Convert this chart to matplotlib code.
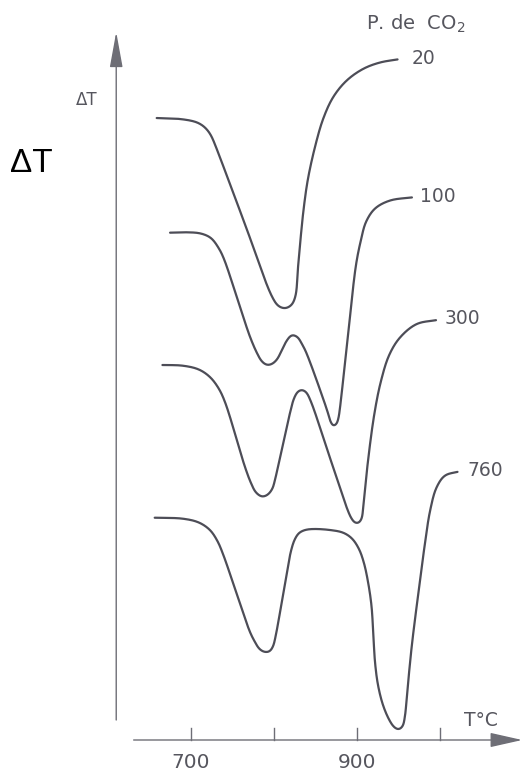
import numpy as np
import matplotlib
matplotlib.use("Agg")
import matplotlib.pyplot as plt

# DTA curves: temperature (°C) vs. ΔT (arbitrary units, curves offset vertically)
pressures = ["20", "100", "300", "760"]

t_20 = [657.8, 686.7, 706.0, 714.5, 720.5, 724.5, 727.5, 764.1, 797.6, 805.4,
        813.3, 821.1, 825.9, 828.9, 831.9, 835.6, 840.7, 849.4, 859.4, 871.4,
        887.6, 907.6, 927.7, 949.8]
dt_20 = [62.2, 62.1, 61.8, 61.42, 60.92, 60.4, 59.85, 51.8, 44.35, 43.4,
         43.17, 43.5, 44.4, 47.2, 50.0, 53.0, 56.0, 59.3, 62.15, 64.3,
         65.95, 67.12, 67.75, 68.07]

t_100 = [673.9, 695.2, 712.0, 724.1, 733.7, 739.8, 759.0, 771.1, 779.5, 785.5,
         791.6, 797.6, 803.6, 809.6, 815.1, 821.7, 828.3, 833.7, 838.6, 863.9,
         868.1, 871.7, 875.3, 877.7, 878.9, 888.8, 898.8, 904.8, 910.8, 921.7,
         939.8, 967.5]
dt_100 = [50.73, 50.77, 50.65, 50.2, 49.15, 48.1, 43.33, 40.33, 38.7, 37.85,
          37.5, 37.6, 38.05, 39.0, 39.9, 40.5, 40.3, 39.6, 38.8, 33.0,
          31.85, 31.4, 31.6, 32.2, 32.8, 40.15, 47.5, 50.0, 51.8, 53.15,
          53.95, 54.27]

t_300 = [664.7, 690.4, 709.6, 722.9, 733.1, 741.0, 765.1, 772.3, 778.3, 785.9,
         792.8, 798.2, 800.6, 819.3, 824.1, 828.9, 833.7, 838.6, 844.0, 866.5,
         889.2, 893.4, 897.6, 901.8, 905.4, 907.8, 912.7, 920.7, 928.7, 938.8,
         951.8, 971.9, 996.4]
dt_300 = [37.5, 37.43, 37.05, 36.3, 35.2, 33.8, 27.3, 25.7, 24.75, 24.33,
          24.55, 25.15, 25.8, 32.7, 34.15, 34.85, 35.02, 34.8, 33.95, 28.45,
          22.9, 22.15, 21.72, 21.7, 22.1, 23.5, 27.5, 32.5, 35.83, 38.5,
          40.25, 41.6, 42.0]

t_760 = [655.4, 690.4, 709.6, 722.9, 731.9, 738.6, 754.8, 771.1, 777.1, 782.5,
         788.6, 794.6, 798.8, 801.8, 816.9, 820.5, 824.7, 830.1, 837.3, 847.3,
         867.5, 883.5, 894.0, 902.4, 908.4, 913.6, 917.5, 919.6, 921.7, 925.3,
         931.3, 938.6, 944.6, 950.0, 954.8, 957.8, 960.2, 965.9, 973.9, 981.9,
         988.0, 995.8, 1006.0, 1022.0]
dt_760 = [22.23, 22.13, 21.75, 21.0, 19.9, 18.6, 14.7, 10.8, 9.8, 9.1,
          8.8, 8.85, 9.35, 10.3, 17.4, 18.9, 20.0, 20.7, 21.0, 21.1,
          21.0, 20.73, 20.15, 19.1, 17.7, 15.67, 13.4, 10.7, 7.8, 5.5,
          3.5, 2.05, 1.3, 1.05, 1.35, 2.4, 4.5, 9.33, 14.67, 19.67,
          22.9, 25.25, 26.45, 26.83]

x_ticks = [700, 800, 900, 1000]
x_tick_labels = {700: "700", 900: "900"}

curves = [(t_20, dt_20), (t_100, dt_100), (t_300, dt_300), (t_760, dt_760)]
label_gap = [16, 9, 9, 11]

LINE = "#4d4d57"
AXIS = "#6e6e76"
TEXT = "#56565e"

fig = plt.figure(figsize=(5.28, 7.76), dpi=100)
ax = fig.add_axes([0, 0, 1, 1])
ax.set_xlim(470.0, 1106.0)
ax.set_ylim(-3.6, 74.0)
ax.axis("off")


def catmull_rom(ax, xs, ys, n=30, sigma=2.0):
    """Centripetal Catmull-Rom curve through the points, computed in display
    space, then resampled by arc length and lightly smoothed."""
    pts = ax.transData.transform(np.column_stack([xs, ys]))
    P = np.vstack([2 * pts[0] - pts[1], pts, 2 * pts[-1] - pts[-2]])
    out = []
    for i in range(1, len(P) - 2):
        p0, p1, p2, p3 = P[i - 1:i + 3]
        t0 = 0.0
        t1 = t0 + np.linalg.norm(p1 - p0) ** 0.5 + 1e-9
        t2 = t1 + np.linalg.norm(p2 - p1) ** 0.5 + 1e-9
        t3 = t2 + np.linalg.norm(p3 - p2) ** 0.5 + 1e-9
        t = np.linspace(t1, t2, n)[:, None]
        a1 = (t1 - t) / (t1 - t0) * p0 + (t - t0) / (t1 - t0) * p1
        a2 = (t2 - t) / (t2 - t1) * p1 + (t - t1) / (t2 - t1) * p2
        a3 = (t3 - t) / (t3 - t2) * p2 + (t - t2) / (t3 - t2) * p3
        b1 = (t2 - t) / (t2 - t0) * a1 + (t - t0) / (t2 - t0) * a2
        b2 = (t3 - t) / (t3 - t1) * a2 + (t - t1) / (t3 - t1) * a3
        c = (t2 - t) / (t2 - t1) * b1 + (t - t1) / (t2 - t1) * b2
        out.append(c if i == 1 else c[1:])
    out = np.vstack(out)
    # resample at uniform arc length
    seg = np.linalg.norm(np.diff(out, axis=0), axis=1)
    s = np.concatenate([[0], np.cumsum(seg)])
    su = np.arange(0, s[-1], 0.5)
    res = np.column_stack([np.interp(su, s, out[:, 0]), np.interp(su, s, out[:, 1])])
    # light gaussian smoothing (sigma in pixels)
    k = np.arange(-int(4 * sigma / 0.5), int(4 * sigma / 0.5) + 1) * 0.5
    w = np.exp(-0.5 * (k / sigma) ** 2)
    w /= w.sum()
    pad = len(k) // 2
    padded = np.vstack([np.repeat(res[:1], pad, 0), res, np.repeat(res[-1:], pad, 0)])
    sm = np.column_stack([np.convolve(padded[:, j], w, mode="valid") for j in range(2)])
    data = ax.transData.inverted().transform(sm)
    return data[:, 0], data[:, 1]


for (xs, ys), label, gap in zip(curves, pressures, label_gap):
    sx, sy = catmull_rom(ax, xs, ys)
    ax.plot(sx, sy, color=LINE, lw=1.6, solid_capstyle="round",
            solid_joinstyle="round")
    ax.text(xs[-1] + gap, ys[-1] + 0.1, label, color=TEXT, fontsize=13.5,
            ha="left", va="center")

# Temperature axis (horizontal arrow)
ax.annotate("", xy=(1099, 0.0), xytext=(631, 0.0),
            arrowprops=dict(arrowstyle="-|>,head_length=2.0,head_width=0.45",
                            color=AXIS, lw=1.0, shrinkA=0, shrinkB=0))
for xt in x_ticks:
    ax.plot([xt, xt], [0.0, 1.2], color=AXIS, lw=1.0)
    if xt in x_tick_labels:
        ax.text(xt, -2.2, x_tick_labels[xt], color=TEXT, fontsize=14.5,
                ha="center", va="center")
ax.text(1049, 1.9, "T°C", color=TEXT, fontsize=13.5, ha="center", va="center")

# ΔT axis (vertical arrow)
ax.annotate("", xy=(610, 70.8), xytext=(610, 2.0),
            arrowprops=dict(arrowstyle="-|>,head_length=2.2,head_width=0.4",
                            color=AXIS, lw=1.0, shrinkA=0, shrinkB=0))
ax.text(575, 64.0, "ΔT", color=TEXT, fontsize=12, ha="center", va="center")

# Header for the CO2 pressure labels
ax.text(971, 71.6, "P. de  CO$_2$", color=TEXT, fontsize=14,
        ha="center", va="center")

# Large axis title
ax.text(508, 57.7, "ΔT", color="black", fontsize=24,
        family=["Liberation Sans", "DejaVu Sans"], ha="center", va="center")

fig.savefig("out.png", dpi=100, facecolor="white")
